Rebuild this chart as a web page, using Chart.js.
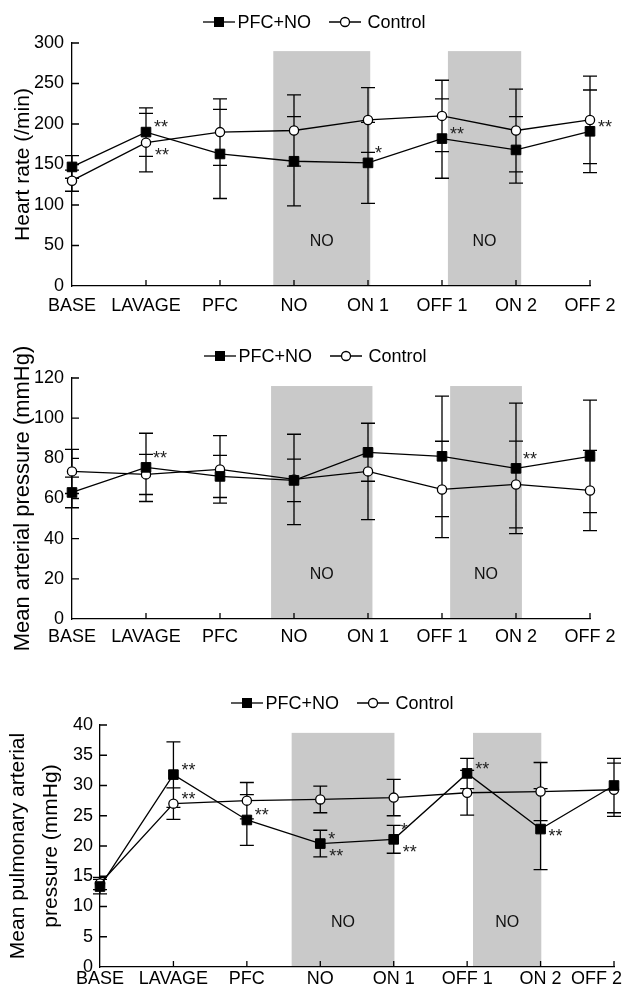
<!DOCTYPE html>
<html lang="en">
<head>
<meta charset="UTF-8">
<title>PFC+NO vs Control</title>
<script src="https://cdn.jsdelivr.net/npm/chart.js"></script>
<style>
  html, body { margin: 0; padding: 0; background: #fff; overflow: hidden; }
  body { width: 623px; height: 996px; position: relative; }
  canvas { position: absolute; left: 0; }
</style>
</head>
<body>
<canvas id="chartHr" width="623" height="316" style="top:0"></canvas>
<canvas id="chartMap" width="623" height="334" style="top:316px"></canvas>
<canvas id="chartMpap" width="623" height="346" style="top:650px"></canvas>

<script>
const labels = ['BASE', 'LAVAGE', 'PFC', 'NO', 'ON 1', 'OFF 1', 'ON 2', 'OFF 2'];
const seriesNames = ['PFC+NO', 'Control'];

// heart rate (/min), mean +/- sd
const hrPfc   = [147, 190, 163, 154, 152, 182, 168, 191];
const hrPfcSd = [14, 30, 55, 55, 50, 49, 41, 51];
const hrCtl   = [130, 177, 190, 192, 205, 210, 192, 205];
const hrCtlSd = [13, 36, 41, 44, 40, 44, 51, 54];
const hrNoBands = [[2.72, 4.03], [5.08, 6.07]];

// mean arterial pressure (mmHg)
const mapPfc   = [63, 75.5, 71, 69, 83, 81, 75, 81];
const mapPfcSd = [7.6, 17, 10.5, 10.6, 14.4, 30, 32.5, 28];
const mapCtl   = [73.5, 72, 74.5, 69.5, 73.5, 64.5, 67, 64];
const mapCtlSd = [11, 10, 16.8, 22.5, 24, 24, 21.6, 20];
const mapNoBands = [[2.69, 4.06], [5.11, 6.08]];

// mean pulmonary arterial pressure (mmHg)
const mpapPfc   = [13.3, 31.8, 24.3, 20.4, 21.1, 32, 22.8, 30];
const mpapPfcSd = [1.2, 5.4, 4.2, 2.2, 2.3, 2.5, 6.7, 4.5];
const mpapCtl   = [13.8, 27, 27.5, 27.7, 28, 28.8, 29, 29.3];
const mpapCtlSd = [1, 2.6, 3, 2.2, 3, 3.7, 4.8, 4.4];
const mpapNoBands = [[2.61, 4.01], [5.08, 6.01]];

// significance marks: [series, point, text, placement]
const hrNotes = [[0, 1, '**', 'up'], [1, 1, '**', 'down'], [0, 4, '*', 'high'], [0, 5, '**', 'up'], [0, 7, '**', 'up']];
const mapNotes = [[0, 1, '**', 'high'], [0, 6, '**', 'high']];
const mpapNotes = [[0, 1, '**', 'up'], [1, 1, '**', 'up'], [0, 2, '**', 'up'], [0, 3, '*', 'up'], [0, 3, '**', 'down'],
                   [0, 4, '*', 'high'], [0, 4, '**', 'down'], [0, 5, '**', 'up'], [0, 6, '**', 'right']];

const FONT = 'Arial, "Liberation Sans", sans-serif';
Chart.defaults.font.family = FONT;
Chart.defaults.color = '#000';

const notePlace = { up: [8, -9], high: [7, -14], down: [9, 8], right: [8, 3] };

// shaded NO periods, inward ticks, error bars, asterisks and the legend
const decor = {
  id: 'decor',
  beforeDraw(chart, args, o) {
    const { ctx, chartArea: a, scales: { x, y } } = chart;
    ctx.save();
    ctx.fillStyle = '#c9c9c9';
    const top = y.getPixelForValue(o.bandTop);
    o.bands.forEach(([from, to]) => {
      const l = x.getPixelForValue(from), r = x.getPixelForValue(to);
      ctx.fillRect(l, top, r - l, a.bottom - top);
    });
    ctx.fillStyle = '#111';
    ctx.font = '16px ' + FONT;
    ctx.textAlign = 'center';
    ctx.textBaseline = 'middle';
    o.bands.forEach(([from, to]) => {
      ctx.fillText('NO', (x.getPixelForValue(from) + x.getPixelForValue(to)) / 2, a.bottom - 44);
    });
    ctx.restore();

    if (o.pinLastLabel) {
      const items = x.getLabelItems(a);
      const last = items[items.length - 1];
      last.options.textAlign = 'right';
      last.options.translation = [chart.width - 1, last.options.translation[1]];
    }
  },
  beforeDatasetsDraw(chart, args, o) {
    const { ctx, chartArea: a, scales: { x, y } } = chart;
    ctx.save();
    ctx.strokeStyle = '#000';
    ctx.lineWidth = 1.3;
    ctx.beginPath();
    y.ticks.forEach(t => {
      if (t.value === 0) return;
      const py = y.getPixelForValue(t.value);
      ctx.moveTo(a.left, py);
      ctx.lineTo(a.left + 7, py);
    });
    x.ticks.forEach((t, i) => {
      if (i === 0) return;
      const px = x.getPixelForTick(i);
      ctx.moveTo(px, a.bottom);
      ctx.lineTo(px, a.bottom - 6);
    });
    ctx.stroke();

    ctx.beginPath();
    chart.data.datasets.forEach((ds, i) => {
      const meta = chart.getDatasetMeta(i);
      o.errors[i].forEach((s, j) => {
        const px = meta.data[j].x;
        const hi = y.getPixelForValue(ds.data[j] + s);
        const lo = y.getPixelForValue(ds.data[j] - s);
        ctx.moveTo(px, hi); ctx.lineTo(px, lo);
        ctx.moveTo(px - 7, hi); ctx.lineTo(px + 7, hi);
        ctx.moveTo(px - 7, lo); ctx.lineTo(px + 7, lo);
      });
    });
    ctx.stroke();
    ctx.restore();
  },
  afterDraw(chart, args, o) {
    const { ctx } = chart;
    ctx.save();
    ctx.fillStyle = '#222';
    ctx.strokeStyle = '#000';
    ctx.font = '18px ' + FONT;
    ctx.textAlign = 'left';
    ctx.textBaseline = 'alphabetic';
    o.notes.forEach(([si, pi, text, place]) => {
      const pt = chart.getDatasetMeta(si).data[pi];
      const [dx, dy] = notePlace[place];
      ctx.fillText(text, pt.x + dx, pt.y + dy + 10.3);
    });

    // legend
    const lx = o.legendX, ly = o.legendY;
    ctx.fillStyle = '#000';
    ctx.lineWidth = 1.3;
    ctx.textBaseline = 'middle';
    ctx.beginPath();
    ctx.moveTo(lx, ly); ctx.lineTo(lx + 32, ly);
    ctx.stroke();
    ctx.fillRect(lx + 11, ly - 5, 10, 10);
    ctx.fillText(seriesNames[0], lx + 34.5, ly + 1);
    const e = lx + 34.5 + ctx.measureText(seriesNames[0]).width;
    ctx.beginPath();
    ctx.moveTo(e + 18, ly); ctx.lineTo(e + 50, ly);
    ctx.stroke();
    ctx.beginPath();
    ctx.arc(e + 34, ly, 4.5, 0, Math.PI * 2);
    ctx.fillStyle = '#fff';
    ctx.fill();
    ctx.stroke();
    ctx.fillStyle = '#000';
    ctx.fillText(seriesNames[1], e + 56.5, ly + 1);
    ctx.restore();
  }
};

function makeChart(id, c) {
  new Chart(document.getElementById(id), {
    type: 'line',
    data: {
      labels: labels,
      datasets: [
        { label: seriesNames[0], data: c.pfc, borderColor: '#000', borderWidth: 1.3, tension: 0,
          pointStyle: 'rect', pointRadius: 6.8, pointBackgroundColor: '#000',
          pointBorderColor: '#000', pointBorderWidth: 1, clip: false },
        { label: seriesNames[1], data: c.ctl, borderColor: '#000', borderWidth: 1.3, tension: 0,
          pointStyle: 'circle', pointRadius: 4.6, pointBackgroundColor: '#fff',
          pointBorderColor: '#000', pointBorderWidth: 1.3, clip: false }
      ]
    },
    options: {
      responsive: false,
      animation: false,
      events: [],
      layout: { padding: c.padding },
      scales: {
        x: {
          offset: false,
          ticks: { padding: c.xPad, font: { size: 18 }, color: '#000', maxRotation: 0, autoSkip: false },
          grid: { display: false, drawTicks: false },
          border: { display: true, color: '#000', width: 1.3 },
          afterFit(s) { s.height = c.xHeight; s.paddingLeft = 0; s.paddingRight = 0; }
        },
        y: {
          min: 0, max: c.max,
          ticks: { stepSize: c.step, padding: c.yPad, font: { size: 18 }, color: '#000' },
          grid: { display: false, drawTicks: false },
          border: { display: true, color: '#000', width: 1.3 },
          title: { display: true, text: c.title, color: '#000',
                   font: { size: c.titleSize, lineHeight: c.titleLh }, padding: { top: c.titlePad, bottom: 0 } },
          afterFit(s) { s.width = c.yWidth; }
        }
      },
      plugins: {
        legend: { display: false },
        tooltip: { enabled: false },
        decor: {
          bands: c.bands, bandTop: c.bandTop, errors: c.errors, notes: c.notes,
          legendX: c.legendX, legendY: c.legendY, pinLastLabel: !!c.pinLastLabel
        }
      }
    },
    plugins: [decor]
  });
}

makeChart('chartHr', {
  pfc: hrPfc, ctl: hrCtl, errors: [hrPfcSd, hrCtlSd], notes: hrNotes,
  bands: hrNoBands, bandTop: 290, max: 300, step: 50,
  title: 'Heart rate (/min)', titleSize: 21, titleLh: 1.2, titlePad: 11,
  padding: { top: 43, right: 33, left: 0, bottom: 0 },
  yWidth: 72, yPad: 8, xHeight: 30, xPad: 9, legendX: 203, legendY: 22
});

makeChart('chartMap', {
  pfc: mapPfc, ctl: mapCtl, errors: [mapPfcSd, mapCtlSd], notes: mapNotes,
  bands: mapNoBands, bandTop: 116, max: 120, step: 20,
  title: 'Mean arterial pressure (mmHg)', titleSize: 22, titleLh: 1.2, titlePad: 10,
  padding: { top: 62, right: 33, left: 0, bottom: 0 },
  yWidth: 72, yPad: 8, xHeight: 31, xPad: 7, legendX: 204, legendY: 40
});

makeChart('chartMpap', {
  pfc: mpapPfc, ctl: mpapCtl, errors: [mpapPfcSd, mpapCtlSd], notes: mpapNotes,
  bands: mpapNoBands, bandTop: 38.7, max: 40, step: 5,
  title: ['Mean pulmonary arterial', 'pressure (mmHg)'], titleSize: 21, titleLh: 1.57, titlePad: 1.5,
  padding: { top: 75, right: 9, left: 0, bottom: 0 },
  yWidth: 100, yPad: 7, xHeight: 29, xPad: 1, legendX: 231, legendY: 53,
  pinLastLabel: true
});
</script>
</body>
</html>
